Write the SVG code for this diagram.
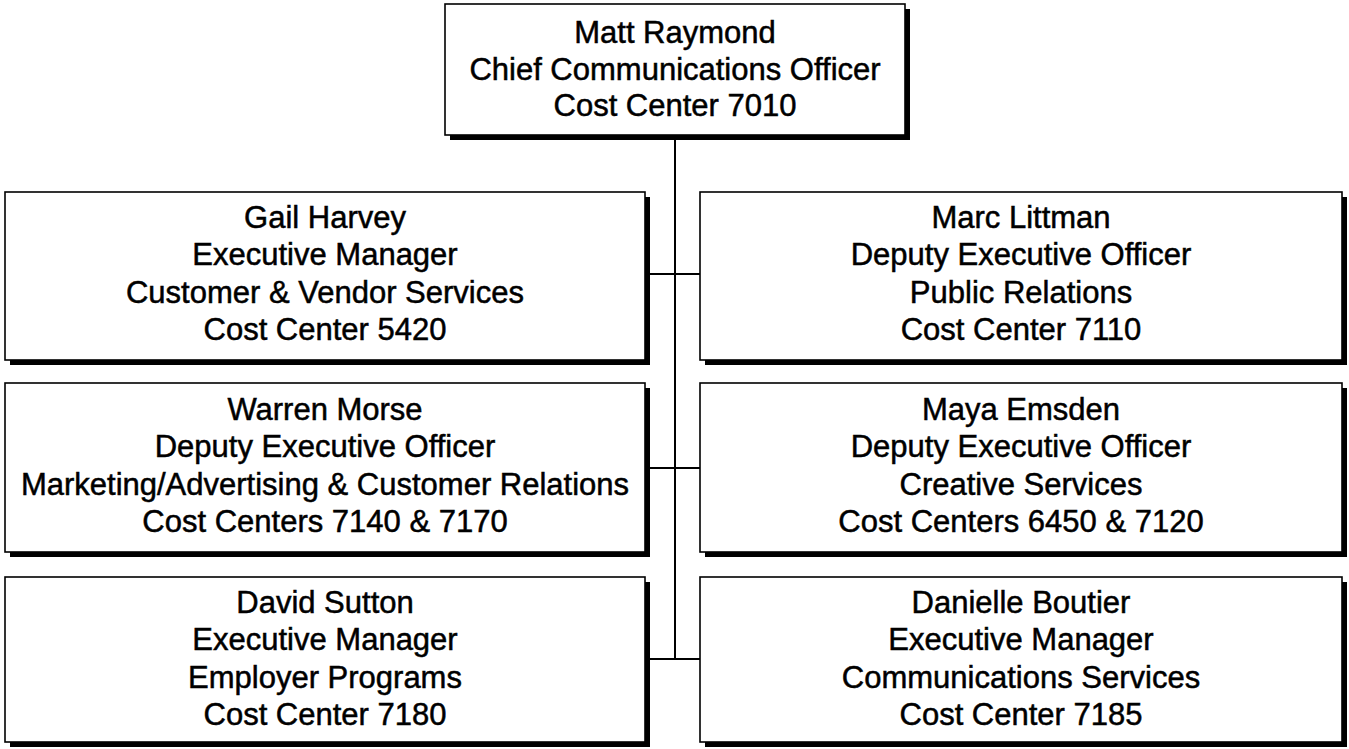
<svg xmlns="http://www.w3.org/2000/svg" width="1349" height="749" viewBox="0 0 1349 749">
<style>
.box{fill:#fff;stroke:#000;stroke-width:1.6}
.sh{fill:#000}
.t{font-family:"Liberation Sans",Arial,sans-serif;font-size:31px;fill:#000;stroke:#000;stroke-width:0.5;text-anchor:middle}
.c{stroke:#000;stroke-width:2;fill:none}
</style>
<rect width="1349" height="749" fill="#fff"/>
<g id="connectors">
<line class="c" x1="675" y1="135" x2="675" y2="659"/>
<line class="c" x1="650" y1="274" x2="700" y2="274"/>
<line class="c" x1="650" y1="468" x2="700" y2="468"/>
<line class="c" x1="650" y1="659" x2="700" y2="659"/>
</g>
<g id="matt">
<rect class="sh" x="450" y="9" width="460" height="131"/>
<rect class="box" x="445" y="4" width="460" height="131"/>
<text class="t" x="675" y="43">Matt Raymond</text>
<text class="t" x="675" y="80">Chief Communications Officer</text>
<text class="t" x="675" y="116">Cost Center 7010</text>
</g>
<g id="gail">
<rect class="sh" x="10" y="197" width="640" height="168"/>
<rect class="box" x="5" y="192" width="640" height="168"/>
<text class="t" x="325" y="228">Gail Harvey</text>
<text class="t" x="325" y="265">Executive Manager</text>
<text class="t" x="325" y="303">Customer &amp; Vendor Services</text>
<text class="t" x="325" y="340">Cost Center 5420</text>
</g>
<g id="marc">
<rect class="sh" x="705" y="197" width="642" height="168"/>
<rect class="box" x="700" y="192" width="642" height="168"/>
<text class="t" x="1021" y="228">Marc Littman</text>
<text class="t" x="1021" y="265">Deputy Executive Officer</text>
<text class="t" x="1021" y="303">Public Relations</text>
<text class="t" x="1021" y="340">Cost Center 7110</text>
</g>
<g id="warren">
<rect class="sh" x="10" y="388" width="640" height="169"/>
<rect class="box" x="5" y="383" width="640" height="169"/>
<text class="t" x="325" y="420">Warren Morse</text>
<text class="t" x="325" y="457">Deputy Executive Officer</text>
<text class="t" x="325" y="495">Marketing/Advertising &amp; Customer Relations</text>
<text class="t" x="325" y="532">Cost Centers 7140 &amp; 7170</text>
</g>
<g id="maya">
<rect class="sh" x="705" y="388" width="642" height="169"/>
<rect class="box" x="700" y="383" width="642" height="169"/>
<text class="t" x="1021" y="420">Maya Emsden</text>
<text class="t" x="1021" y="457">Deputy Executive Officer</text>
<text class="t" x="1021" y="495">Creative Services</text>
<text class="t" x="1021" y="532">Cost Centers 6450 &amp; 7120</text>
</g>
<g id="david">
<rect class="sh" x="10" y="582" width="640" height="165"/>
<rect class="box" x="5" y="577" width="640" height="165"/>
<text class="t" x="325" y="613">David Sutton</text>
<text class="t" x="325" y="650">Executive Manager</text>
<text class="t" x="325" y="688">Employer Programs</text>
<text class="t" x="325" y="725">Cost Center 7180</text>
</g>
<g id="danielle">
<rect class="sh" x="705" y="582" width="642" height="165"/>
<rect class="box" x="700" y="577" width="642" height="165"/>
<text class="t" x="1021" y="613">Danielle Boutier</text>
<text class="t" x="1021" y="650">Executive Manager</text>
<text class="t" x="1021" y="688">Communications Services</text>
<text class="t" x="1021" y="725">Cost Center 7185</text>
</g>
</svg>
